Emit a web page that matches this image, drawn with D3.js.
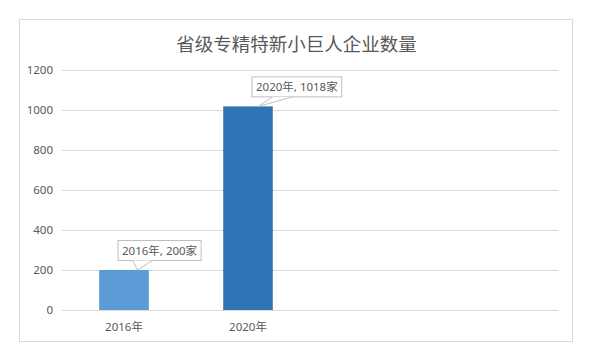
<!DOCTYPE html>
<html>
<head>
<meta charset="utf-8">
<script src="https://cdn.jsdelivr.net/npm/d3@7"></script>
<style>
  body { margin: 0; background: #fff; }
  text { font-family: "Noto Sans", "Noto Sans CJK SC", sans-serif; fill: #595959; }
</style>
</head>
<body>
<svg id="svg"></svg>
<script>
// chart data
const categories = ["2016年", "2020年"];
const values = [200, 1018];
const barColors = ["#5b9bd5", "#2e75b6"];
const yTicks = [0, 200, 400, 600, 800, 1000, 1200];
const slotCount = 4; // excel chart kept two empty category slots
const title = "省级专精特新小巨人企业数量";

function sketch() {
    let svg = d3.select("#svg")
        .attr("width", 599)
        .attr("height", 363);

    // chart frame
    svg.append("rect")
        .attr("x", 19.5).attr("y", 19.5)
        .attr("width", 553).attr("height", 322)
        .attr("fill", "#fff")
        .attr("stroke", "#d9d9d9")
        .attr("stroke-width", 1);

    svg.append("text")
        .attr("x", 296.5)
        .attr("y", 43)
        .attr("dominant-baseline", "central")
        .attr("text-anchor", "middle")
        .style("font-size", "18.5px")
        .style("font-family", "\"Noto Sans CJK SC\", sans-serif")
        .text(title);

    let marginLeft = 62;
    let marginTop = 70;
    let plotW = 496;
    let plotH = 240;

    let g = svg.append("g")
        .attr("transform", `translate(${marginLeft},${marginTop})`);

    let x = d3.scaleBand()
        .domain(d3.range(slotCount))
        .range([0, plotW])
        .paddingInner(0.6)
        .paddingOuter(0.3);

    let y = d3.scaleLinear()
        .domain([0, 1200])
        .range([plotH, 0]);

    // gridlines + labels
    let yAxis = g.append("g")
        .call(d3.axisLeft(y)
              .tickValues(yTicks)
              .tickFormat(d3.format("d"))
              .tickSize(-plotW)
              .tickPadding(9));
    yAxis.select(".domain").remove();
    yAxis.selectAll(".tick line")
        .attr("stroke", "#d9d9d9");
    yAxis.selectAll(".tick text")
        .style("font-size", "11.5px")
        .style("font-family", "\"Noto Sans\", sans-serif")
        .attr("fill", "#595959");

    let data = categories.map((c, i) => ({cat: c, value: values[i], idx: i}));

    g.selectAll("rect.bar")
        .data(data)
        .enter()
        .append("rect")
        .attr("class", "bar")
        .attr("x", d => x(d.idx))
        .attr("y", d => y(d.value))
        .attr("width", x.bandwidth())
        .attr("height", d => y(0) - y(d.value))
        .attr("fill", (d, i) => barColors[i]);

    g.selectAll("text.xlab")
        .data(data)
        .enter()
        .append("text")
        .attr("class", "xlab")
        .attr("x", d => x(d.idx) + x.bandwidth() / 2)
        .attr("y", plotH + 16)
        .attr("dominant-baseline", "central")
        .attr("text-anchor", "middle")
        .style("font-size", "11.5px")
        .text(d => d.cat);

    // callout data labels
    let boxLeft = [-6.5, 3.5];   // box left relative to bar centre
    let pointerBase = [15, 21];  // pointer start relative to box left
    let tipDx = [13.5, 10.5];

    let labels = g.selectAll("g.dlabel")
        .data(data)
        .enter()
        .append("g")
        .attr("class", "dlabel");

    labels.each(function(d, i) {
        let lg = d3.select(this);
        let cx = x(d.idx) + x.bandwidth() / 2;
        let tipX = cx + tipDx[i];
        let tipY = y(d.value);
        let boxBottom = tipY - 10;
        let boxH = 20;

        let txt = lg.append("text")
            .attr("y", boxBottom - boxH / 2)
            .attr("dominant-baseline", "central")
            .style("font-size", "11.5px")
            .text(d.cat + ", " + d.value + "家");
        let w = txt.node().getComputedTextLength();
        let bx = cx + boxLeft[i];
        let bw = w + 8;

        lg.insert("rect", "text")
            .attr("x", bx + 0.5)
            .attr("y", boxBottom - boxH + 0.5)
            .attr("width", bw)
            .attr("height", boxH)
            .attr("fill", "#fff")
            .attr("stroke", "#bfbfbf");
        txt.attr("x", bx + 4.5);

        let p0 = bx + pointerBase[i];
        lg.insert("path", "text")
            .attr("d", `M${p0},${boxBottom + 0.5} L${tipX},${tipY} L${p0 + 20},${boxBottom + 0.5}`)
            .attr("fill", "#fff")
            .attr("stroke", "#bfbfbf");
    });
}

sketch();
</script>
</body>
</html>
